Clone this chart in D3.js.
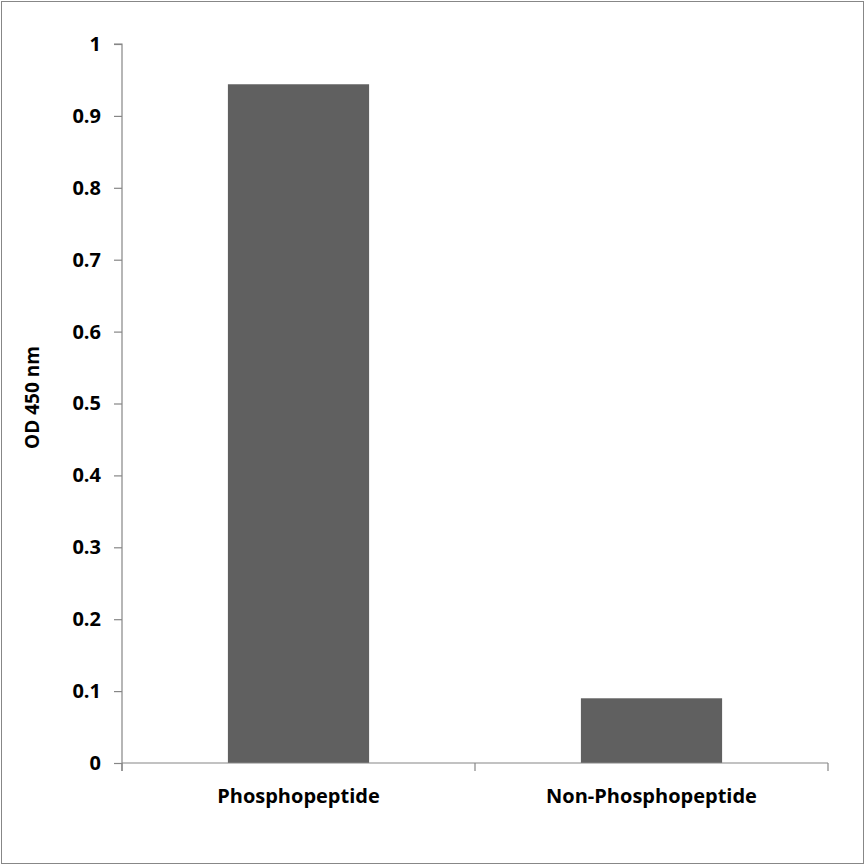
<!DOCTYPE html>
<html>
<head>
<meta charset="utf-8">
<script src="https://cdn.jsdelivr.net/npm/d3@7"></script>
<style>
  body { margin: 0; background: #fff; }
  svg { display: block; }
  text { font-family: "Open Sans", "Lato", sans-serif; font-weight: bold; fill: #000; }
</style>
</head>
<body>
<script>
// Data
const categories = ["Phosphopeptide", "Non-Phosphopeptide"];
const odValues = [0.944, 0.090];
const yTicks = [0, 0.1, 0.2, 0.3, 0.4, 0.5, 0.6, 0.7, 0.8, 0.9, 1];
const yTitle = "OD 450 nm";

const width = 865, height = 865;
const margin = { left: 122, right: 37, top: 44, bottom: 102 };

const svg = d3.select("body").append("svg")
    .attr("width", width)
    .attr("height", height);

// outer frame
svg.append("rect")
    .attr("x", 1.5).attr("y", 1.5)
    .attr("width", width - 3).attr("height", height - 3)
    .attr("fill", "none")
    .attr("stroke", "#878787");

const x = d3.scaleBand()
    .domain(categories)
    .range([margin.left, width - margin.right])
    .paddingInner(0.6)
    .paddingOuter(0.3);

const y = d3.scaleLinear()
    .domain([0, 1])
    .range([height - margin.bottom, margin.top]);

// bars
svg.selectAll(".bar")
    .data(categories)
    .join("rect")
    .classed("bar", true)
    .attr("x", (d) => x(d))
    .attr("width", x.bandwidth())
    .attr("y", (d, i) => y(odValues[i]))
    .attr("height", (d, i) => y(0) - y(odValues[i]))
    .attr("fill", "#606060");

// y axis
const yAxis = svg.append("g")
    .attr("transform", `translate(${margin.left},0)`)
    .call(d3.axisLeft(y).tickValues(yTicks).tickSize(8).tickPadding(13)
        .tickFormat((d) => d3.format("")(d)));
yAxis.select(".domain").attr("d", `M-8,${y(1)}H0V${y(0) + 8}`);

// x axis: ticks at category boundaries
const xAxis = svg.append("g")
    .attr("transform", `translate(0,${y(0)})`);
const xEdges = [margin.left, (margin.left + width - margin.right) / 2, width - margin.right];
xAxis.append("path")
    .attr("d", `M${margin.left},0H${width - margin.right}`);
xAxis.selectAll(".xtick")
    .data(xEdges)
    .join("line")
    .classed("xtick", true)
    .attr("x1", (d) => d).attr("x2", (d) => d)
    .attr("y1", 0).attr("y2", 8);
xAxis.selectAll(".xlabel")
    .data(categories)
    .join("text")
    .classed("xlabel", true)
    .attr("x", (d) => x(d) + x.bandwidth() / 2)
    .attr("y", 40)
    .attr("text-anchor", "middle")
    .style("font-size", "20px")
    .text((d) => d);

svg.selectAll(".domain, .tick line, .xtick, g path")
    .attr("stroke", "#868686")
    .attr("stroke-width", 1.2)
    .attr("fill", "none");
yAxis.selectAll(".tick text")
    .style("font-size", "20px")
    .attr("fill", "#000");

// y title
svg.append("text")
    .attr("transform", `translate(39,${(y(0) + y(1)) / 2 - 6}) rotate(-90)`)
    .attr("text-anchor", "middle")
    .style("font-size", "19px")
    .text(yTitle);
</script>
</body>
</html>
